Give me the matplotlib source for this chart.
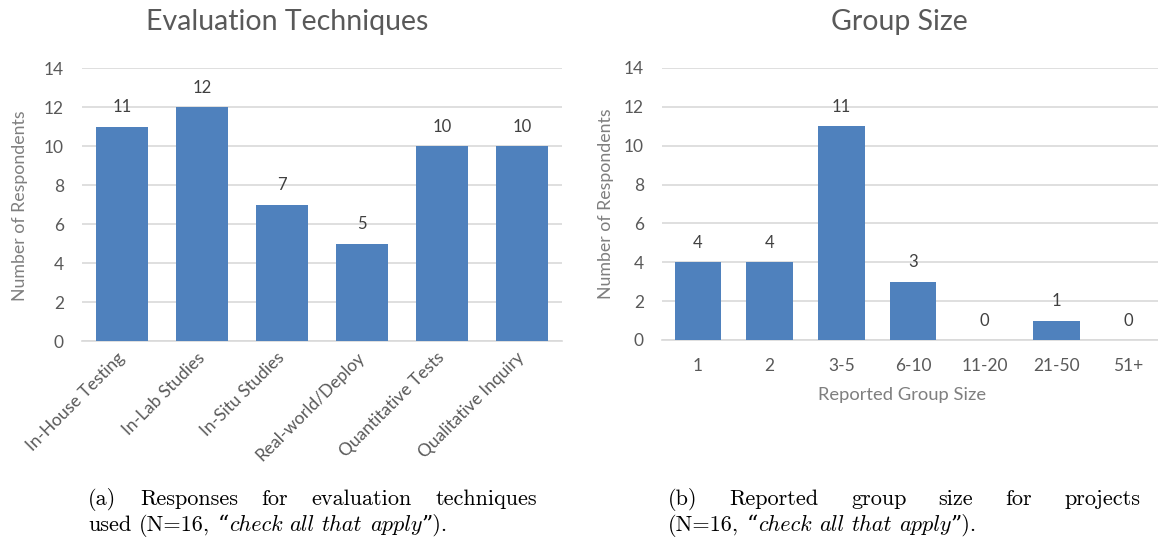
import matplotlib
matplotlib.use("Agg")
import matplotlib.pyplot as plt

# data
techniques = ["In-House Testing", "In-Lab Studies", "In-Situ Studies",
              "Real-world/Deploy", "Quantitative Tests", "Qualitative Inquiry"]
technique_counts = [11, 12, 7, 5, 10, 10]

group_sizes = ["1", "2", "3-5", "6-10", "11-20", "21-50", "51+"]
group_counts = [4, 4, 11, 3, 0, 1, 0]

y_ticks = [0, 2, 4, 6, 8, 10, 12, 14]

BAR = "#4F81BD"
GRID = "#D9D9D9"
TXT = "#595959"
LBL = "#7F7F7F"
FONT = "Lato"

W, H = 1158, 544
fig = plt.figure(figsize=(W / 100, H / 100), dpi=100)


def px_axes(left, top, right, bottom):
    return fig.add_axes([left / W, 1 - bottom / H, (right - left) / W, (bottom - top) / H])


def style_axes(ax, counts):
    x = range(len(counts))
    ax.bar(x, counts, width=0.65, color=BAR, zorder=3)
    for i, v in zip(x, counts):
        ax.annotate(str(v), (i, v), xytext=(0, 14), textcoords="offset points",
                    ha="center", va="center", fontsize=12, color="#404040", family=FONT)
    ax.set_ylim(0, 14)
    ax.set_yticks(y_ticks)
    ax.grid(axis="y", color=GRID, linewidth=1.2, zorder=0)
    ax.tick_params(length=0, labelsize=12.5, labelcolor=TXT)
    ax.tick_params(axis="y", pad=13)
    for s in ["top", "right", "left"]:
        ax.spines[s].set_visible(False)
    ax.spines["bottom"].set_color(GRID)
    ax.spines["bottom"].set_linewidth(1.2)
    for lab in ax.get_yticklabels():
        lab.set_family(FONT)


# (a) evaluation techniques
ax1 = px_axes(82, 68.3, 562, 341.3)
style_axes(ax1, technique_counts)
ax1.set_xlim(-0.5, len(techniques) - 0.5)
ax1.set_xticks(range(len(techniques)))
ax1.set_xticklabels(techniques, rotation=45, ha="right", va="center",
                    rotation_mode="anchor", family=FONT)
ax1.tick_params(axis="x", pad=10)

# (b) group size
ax2 = px_axes(662, 68, 1158, 340)
style_axes(ax2, group_counts)
ax2.set_xlim(-0.5, -0.5 + 496 / 71.7)
ax2.set_xticks(range(len(group_sizes)))
ax2.set_xticklabels(group_sizes, family=FONT)
ax2.tick_params(axis="x", pad=13)

fig.text(287 / W, 1 - 22 / H, "Evaluation Techniques", ha="center", va="center",
         fontsize=20.5, color=TXT, family=FONT)
fig.text(899 / W, 1 - 22 / H, "Group Size", ha="center", va="center",
         fontsize=20.5, color=TXT, family=FONT)
fig.text(20 / W, 1 - 206 / H, "Number of Respondents", rotation=90, ha="center",
         va="center", fontsize=12.8, color=LBL, family=FONT)
fig.text(606 / W, 1 - 204 / H, "Number of Respondents", rotation=90, ha="center",
         va="center", fontsize=12.8, color=LBL, family=FONT)
fig.text(902 / W, 1 - 395 / H, "Reported Group Size", ha="center", va="center",
         fontsize=13.2, color=LBL, family=FONT)

# captions, set word by word so the first line can be justified
renderer = fig.canvas.get_renderer()
RM = ["cmr10", "DejaVu Serif"]
IT = ["cmmi10", "DejaVu Serif"]
CAP = 16


def seg_width(s, fam, size):
    t = fig.text(0, 0, s, fontsize=size, family=fam)
    w = t.get_window_extent(renderer).width
    t.remove()
    return w


def caption_line(words, x0, base, size, width=None):
    widths = [sum(seg_width(s, f, size) for s, f in wd) for wd in words]
    if width is None:
        gap = seg_width("a a", RM, size) - 2 * seg_width("a", RM, size)
    else:
        gap = (width - sum(widths)) / (len(words) - 1)
    x = x0
    for wd, ww in zip(words, widths):
        xs = x
        for s, f in wd:
            fig.text(xs / W, 1 - base / H, s, fontsize=size, family=f,
                     ha="left", va="baseline", color="black")
            xs += seg_width(s, f, size)
        x += ww + gap


def plain(text):
    return [[(w, RM)] for w in text.split()]


tail = [[("(N=16,", RM)], [("\u201c", RM), ("check", IT)], [("all", IT)],
        [("that", IT)], [("apply", IT), ("\u201d).", RM)]]

caption_line(plain("(a) Responses for evaluation techniques"), 88, 505, CAP, width=449)
caption_line(plain("used") + tail, 88, 531, CAP)
caption_line(plain("(b) Reported group size for projects"), 668, 505, CAP, width=472)
caption_line(tail, 668, 531, CAP)

fig.savefig("out.png", dpi=100)
